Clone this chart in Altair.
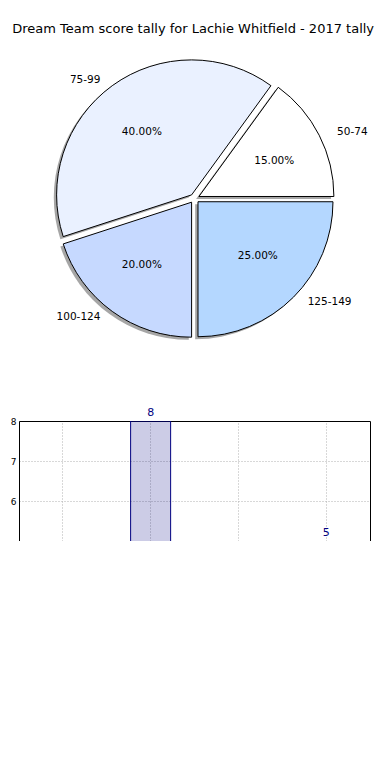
import math
import altair as alt
import pandas as pd

# ---- data ----
categories = ["50-74", "75-99", "100-124", "125-149"]
counts = [3, 8, 4, 5]
slice_colors = ["#ffffff", "#eaf1ff", "#c6d9ff", "#b4d7ff"]
title_text = "Dream Team score tally for Lachie Whitfield - 2017 tally"

total = sum(counts)
df = pd.DataFrame({"cat": categories, "count": counts, "idx": list(range(len(categories)))})

EXPLODE = 0.035
SHADOW = -0.02
FONT = "DejaVu Sans"

base = (
    alt.Chart(df)
    .transform_window(cum="sum(count)", sort=[{"field": "idx"}])
    .transform_joinaggregate(total="sum(count)")
    .transform_calculate(
        start="datum.cum - datum.count",
        end="datum.cum",
        ang="2*PI*(datum.cum - datum.count/2)/datum.total",
    )
    .transform_calculate(
        ex=f"{EXPLODE}*cos(datum.ang)",
        ey=f"{EXPLODE}*sin(datum.ang)",
    )
    .transform_calculate(
        sx=f"datum.ex + {SHADOW}",
        sy=f"datum.ey + {SHADOW}",
        px="datum.ex + 0.6*cos(datum.ang)",
        py="datum.ey + 0.6*sin(datum.ang)",
        lx="datum.ex + 1.1*cos(datum.ang)",
        ly="datum.ey + 1.1*sin(datum.ang)",
        pct="format(100*datum.count/datum.total, '.2f') + '%'",
    )
)

xs = alt.Scale(domain=[-1.245, 1.245], nice=False, zero=False)
ys = alt.Scale(domain=[-1.205, 1.198], nice=False, zero=False)
theta_scale = alt.Scale(domain=[0, total], range=[2.5 * math.pi, 0.5 * math.pi])

R = 135

shadow = base.mark_arc(radius=R, fill="#4d4d4d", fillOpacity=0.5).encode(
    x=alt.X("sx:Q", scale=xs, axis=None),
    y=alt.Y("sy:Q", scale=ys, axis=None),
    theta=alt.Theta("start:Q", scale=theta_scale),
    theta2="end:Q",
)

slices = base.mark_arc(radius=R, stroke="black", strokeWidth=1).encode(
    x=alt.X("ex:Q", scale=xs, axis=None),
    y=alt.Y("ey:Q", scale=ys, axis=None),
    theta=alt.Theta("start:Q", scale=theta_scale),
    theta2="end:Q",
    color=alt.Color("cat:N", scale=alt.Scale(domain=categories, range=slice_colors), legend=None),
)

pct_text = base.mark_text(font=FONT, fontSize=10.5, color="black").encode(
    x=alt.X("px:Q", scale=xs, axis=None),
    y=alt.Y("py:Q", scale=ys, axis=None),
    text="pct:N",
)

lab_left = base.transform_filter("cos(datum.ang) < 0").mark_text(
    font=FONT, fontSize=10.5, color="black", align="right"
).encode(
    x=alt.X("lx:Q", scale=xs, axis=None),
    y=alt.Y("ly:Q", scale=ys, axis=None),
    text="cat:N",
)
lab_right = base.transform_filter("cos(datum.ang) >= 0").mark_text(
    font=FONT, fontSize=10.5, color="black", align="left"
).encode(
    x=alt.X("lx:Q", scale=xs, axis=None),
    y=alt.Y("ly:Q", scale=ys, axis=None),
    text="cat:N",
)

pie = alt.layer(shadow, slices, pct_text, lab_left, lab_right).properties(width=351, height=310)

# ---- bar chart (cropped view) ----
grid_kw = dict(grid=True, gridDash=[1, 2], gridColor="#b0b0b0", gridWidth=1)
ybar = alt.Scale(domain=[5, 8], nice=False, zero=False)
xbar = alt.X(
    "cat:N",
    sort=categories,
    scale=alt.Scale(domain=categories, paddingInner=0.544, paddingOuter=0.272),
    axis=alt.Axis(orient="top", labels=False, ticks=False, title=None,
                  domainColor="black", domainWidth=1, **grid_kw),
)

bars = alt.Chart(df).transform_filter("datum.count > 5").mark_bar(
    clip=True, fill="navy", fillOpacity=0.2, stroke="navy", strokeWidth=1
).encode(
    x=xbar,
    y=alt.Y("count:Q", scale=ybar,
            axis=alt.Axis(values=[5, 6, 7, 8], title=None, ticks=False,
                          labelExpr="datum.value == 5 ? '' : datum.label",
                          labelFontSize=9, labelColor="black", labelPadding=3,
                          domainColor="black", domainWidth=1, **grid_kw)),
    y2=alt.datum(0),
)

bar_text = alt.Chart(df).transform_filter("datum.count >= 5").mark_text(
    font=FONT, fontSize=11, color="navy", baseline="bottom", dy=-3
).encode(
    x=xbar,
    y=alt.Y("count:Q", scale=ybar,
            axis=alt.Axis(orient="right", labels=False, ticks=False, grid=False,
                          title=None, domainColor="black", domainWidth=1)),
    text="count:Q",
)

bar_chart = alt.layer(bars, bar_text).resolve_axis(y="independent").properties(width=351, height=120)

chart = alt.vconcat(pie, bar_chart, spacing=67, bounds="flush").properties(
    title=alt.TitleParams(title_text, fontSize=13, font=FONT, fontWeight="normal",
                          anchor="middle", offset=8, dx=3, color="black"),
    padding={"left": 2, "top": 15, "right": 0, "bottom": 0},
).configure_view(stroke=None).configure_axis(labelFont=FONT)

chart.save("out.html", embed_options={"renderer": "svg", "actions": False})
